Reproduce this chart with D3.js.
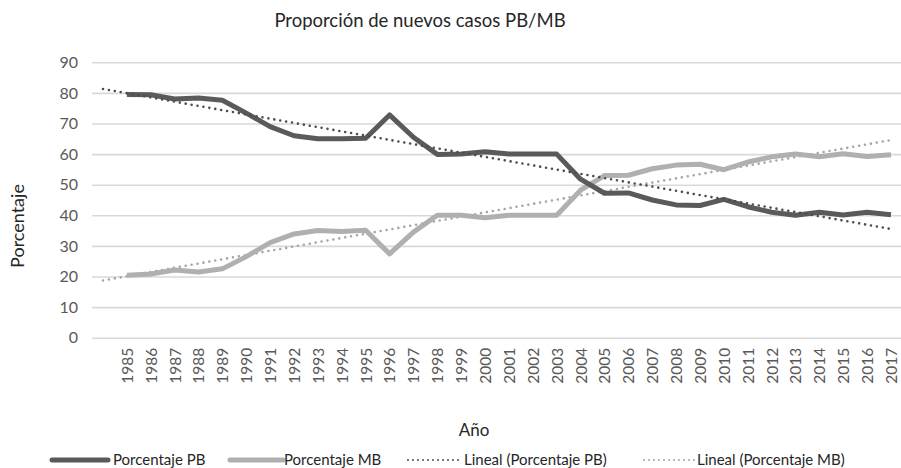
<!DOCTYPE html>
<html>
<head>
<meta charset="utf-8">
<script src="https://cdn.jsdelivr.net/npm/d3@7"></script>
<style>
  body { margin: 0; background: #fff; }
  svg { font-family: Lato, "Open Sans", sans-serif; }
</style>
</head>
<body>
<div id="chart"></div>
<script>
// Años y series
const years = d3.range(1985, 2018);
const pbValues = [79.5, 79.4, 78.0, 78.3, 77.6, 73.4, 69.0, 66.0, 65.0, 65.0, 65.2, 72.8, 65.5, 59.9, 60.0,
                  60.8, 60.0, 60.0, 60.0, 51.8, 47.2, 47.3, 45.0, 43.4, 43.2, 45.2, 42.8, 41.0, 40.0, 41.0, 40.1, 41.0, 40.2];
const mbValues = [20.4, 20.8, 22.1, 21.5, 22.5, 26.5, 31.1, 33.9, 35.0, 34.7, 35.1, 27.4, 34.5, 40.0, 40.0,
                  39.2, 40.0, 40.0, 40.0, 48.2, 53.0, 53.1, 55.2, 56.4, 56.7, 54.9, 57.4, 59.1, 60.0, 59.1, 60.1, 59.2, 59.8];
const yTicks = [0, 10, 20, 30, 40, 50, 60, 70, 80, 90];
const seriesNames = ["Porcentaje PB", "Porcentaje MB", "Lineal (Porcentaje PB)", "Lineal (Porcentaje MB)"];

const width = 901, height = 468;
const plot = { left: 92, right: 905, top: 62.3, bottom: 337.7 };

const svg = d3.select("#chart").append("svg")
    .attr("width", width)
    .attr("height", height);

// tendencia con un periodo hacia atrás (como en Excel)
const x = d3.scaleLinear().domain([1984, 2017]).range([103, 891]);
const y = d3.scaleLinear().domain([0, 90]).range([plot.bottom, plot.top]);

// eje Y con líneas de cuadrícula
const yAxis = svg.append("g")
    .attr("transform", `translate(${plot.left},0)`)
    .call(d3.axisLeft(y).tickValues(yTicks).tickSize(-(plot.right - plot.left)).tickPadding(14));
yAxis.select(".domain").remove();
yAxis.selectAll(".tick line").attr("stroke", "#d9d9d9").attr("stroke-width", 1.6);
yAxis.selectAll(".tick text")
    .attr("fill", "#595959")
    .style("font-size", "16px")
    .style("font-family", "Lato, sans-serif");

// eje X: años en vertical
const xAxis = svg.append("g")
    .attr("transform", `translate(0,${plot.bottom})`)
    .call(d3.axisBottom(x).tickValues(years).tickFormat(d3.format("d")).tickSize(0));
xAxis.select(".domain").remove();
xAxis.selectAll(".tick text")
    .attr("fill", "#595959")
    .style("font-size", "15.5px")
    .style("font-family", "Lato, sans-serif")
    .attr("text-anchor", "end")
    .attr("transform", "rotate(-90)")
    .attr("x", -10)
    .attr("y", 0)
    .attr("dy", "0.35em");

// regresión lineal
function trend(values) {
    const n = values.length;
    const xs = d3.range(1, n + 1);
    const mx = d3.mean(xs), my = d3.mean(values);
    const b = d3.sum(xs, (v, i) => (v - mx) * (values[i] - my)) / d3.sum(xs, v => (v - mx) ** 2);
    const a = my - b * mx;
    return [{ year: 1984, v: a }, { year: 2017, v: a + b * n }];
}

const line = d3.line().x(d => x(d.year)).y(d => y(d.v));

const pbData = years.map((yr, i) => ({ year: yr, v: pbValues[i] }));
const mbData = years.map((yr, i) => ({ year: yr, v: mbValues[i] }));

svg.append("path").datum(trend(mbValues))
    .attr("d", line).attr("fill", "none")
    .attr("stroke", "#a6a6a6").attr("stroke-width", 2.6)
    .attr("stroke-linecap", "round").attr("stroke-dasharray", "0,6");

svg.append("path").datum(mbData)
    .attr("d", line).attr("fill", "none")
    .attr("stroke", "#b0b0b0").attr("stroke-width", 5)
    .attr("stroke-linejoin", "round");

svg.append("path").datum(pbData)
    .attr("d", line).attr("fill", "none")
    .attr("stroke", "#5a5a5a").attr("stroke-width", 5)
    .attr("stroke-linejoin", "round");

svg.append("path").datum(trend(pbValues))
    .attr("d", line).attr("fill", "none")
    .attr("stroke", "#4d4d4d").attr("stroke-width", 2.6)
    .attr("stroke-linecap", "round").attr("stroke-dasharray", "0,6");

// títulos
svg.append("text")
    .attr("x", 420).attr("y", 27)
    .attr("text-anchor", "middle")
    .attr("fill", "#262626")
    .style("font-size", "18.5px")
    .text("Proporción de nuevos casos PB/MB");

svg.append("text")
    .attr("transform", "rotate(-90)")
    .attr("x", -226).attr("y", 24)
    .attr("text-anchor", "middle")
    .attr("fill", "#262626")
    .style("font-size", "18px")
    .text("Porcentaje");

svg.append("text")
    .attr("x", 474).attr("y", 436)
    .attr("text-anchor", "middle")
    .attr("fill", "#262626")
    .style("font-size", "17px")
    .text("Año");

// leyenda
const legendItems = [
    { name: seriesNames[0], x0: 52, x1: 108, tx: 113, color: "#5a5a5a", w: 5, dash: null },
    { name: seriesNames[1], x0: 230, x1: 283, tx: 284, color: "#b0b0b0", w: 5, dash: null },
    { name: seriesNames[2], x0: 408, x1: 460, tx: 464, color: "#4d4d4d", w: 2, dash: "0,5" },
    { name: seriesNames[3], x0: 644, x1: 695, tx: 697, color: "#a6a6a6", w: 2, dash: "0,5" }
];

const legend = svg.append("g").attr("class", "legend");
legendItems.forEach(d => {
    legend.append("line")
        .attr("x1", d.x0).attr("x2", d.x1)
        .attr("y1", 460).attr("y2", 460)
        .attr("stroke", d.color).attr("stroke-width", d.w)
        .attr("stroke-linecap", "round")
        .attr("stroke-dasharray", d.dash);
    legend.append("text")
        .attr("x", d.tx).attr("y", 460)
        .attr("dy", "0.35em")
        .attr("fill", "#262626")
        .style("font-size", "15px")
        .text(d.name);
});
</script>
</body>
</html>
